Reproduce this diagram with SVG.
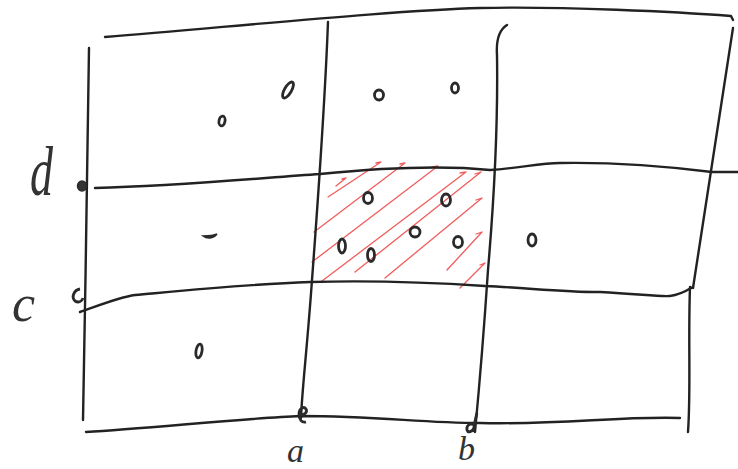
<svg xmlns="http://www.w3.org/2000/svg" width="738" height="469" viewBox="0 0 738 469">
<style>
.ln{fill:none;stroke:#222;stroke-width:2.4;stroke-linecap:round;stroke-linejoin:round}
.pt{fill:none;stroke:#2a2a2a;stroke-width:2.8}
.pf{fill:#333;stroke:#2a2a2a;stroke-width:1.5}
.h{fill:none;stroke:#ef4a4a;stroke-width:1.3;stroke-linecap:round;stroke-linejoin:round;opacity:0.9}
.lb{font-family:"Liberation Serif","DejaVu Serif",serif;font-style:italic;fill:#333}
</style>
<rect width="738" height="469" fill="#fff"/>
<g id="hatch">
<path class="h" d="M336,186 L346,178 l-4,1"/>
<path class="h" d="M328,197 L381,162 l-5,1"/>
<path class="h" d="M314,232 L405,163 l-5,1"/>
<path class="h" d="M312,262 L438,166 l-6,1"/>
<path class="h" d="M322,281 L466,172 l-6,1"/>
<path class="h" d="M355,272 L481,172 l-6,2"/>
<path class="h" d="M385,278 L482,198 l-6,2"/>
<path class="h" d="M447,270 L482,232 l-6,2"/>
<path class="h" d="M460,288 L485,263 l-5,2"/>
</g>
<g id="grid">
<path class="ln" d="M105,37 C250,25 400,10 480,8 S680,12 731,16 l2,4"/>
<path class="ln" d="M89,48 C88,150 85,300 83,420"/>
<path class="ln" d="M86,432 C150,428 250,418 300,416 C380,416 420,423 480,423 C560,425 620,416 680,418"/>
<path class="ln" d="M328,22 C325,100 318,200 312,280 C307,350 302,390 301,418"/>
<path class="ln" d="M507,25 C499,30 496,40 497,55 C498,120 494,200 488,270 C484,330 479,390 475,432"/>
<path class="ln" d="M733,28 C725,80 710,180 693,288"/>
<path class="ln" d="M690,287 C688,340 691,390 688,432"/>
<path class="ln" d="M95,188 C180,186 260,178 320,174 C380,168 440,165 490,170 C520,168 540,163 560,163 C620,162 680,168 712,172 L738,172"/>
<path class="ln" d="M80,312 C100,305 120,297 135,295 C190,290 250,284 310,282 C380,280 440,283 485,286 C530,288 560,292 600,292 C640,294 660,297 670,296 C680,295 688,290 693,287"/>
</g>
<g id="points">
<ellipse class="pf" cx="82" cy="186" rx="4.5" ry="5"/>
<path class="pt" d="M80,289 C74,290 71,297 75,301 C78,303 82,302 83,298" stroke-width="3.2"/>
<ellipse class="pt" cx="222" cy="121" rx="3" ry="5" transform="rotate(10 222 121)"/>
<ellipse class="pt" cx="288" cy="90" rx="3.5" ry="9" transform="rotate(30 288 90)"/>
<ellipse class="pt" cx="379" cy="95" rx="4.5" ry="5"/>
<ellipse class="pt" cx="455" cy="88" rx="3.5" ry="5"/>
<path class="pf" d="M203,236 C207,239 213,239 217,234 C213,236 208,236 203,236 Z" stroke-width="2"/>
<ellipse class="pt" cx="199" cy="351" rx="3" ry="7" transform="rotate(10 199 351)"/>
<ellipse class="pt" cx="368" cy="198" rx="4.5" ry="5.5"/>
<ellipse class="pt" cx="342" cy="246" rx="3.5" ry="7"/>
<ellipse class="pt" cx="371" cy="255" rx="3.5" ry="6.5"/>
<ellipse class="pt" cx="446" cy="200" rx="4.5" ry="6"/>
<ellipse class="pt" cx="415" cy="232" rx="5" ry="5"/>
<ellipse class="pt" cx="458" cy="242" rx="4.5" ry="5.5"/>
<ellipse class="pt" cx="532" cy="240" rx="4" ry="6"/>
<path class="pt" d="M299,414 C303,416 308,413 306,409 C304,406 299,408 299,414 C299,420 302,423 306,422"/>
<path class="pt" d="M477,413 C475,420 474,428 473,432 M475,426 C471,422 466,425 467,430 C468,433 472,432 474,428"/>
</g>
<g id="labels">
<text class="lb" x="30" y="130" font-size="46" transform="scale(1,1.5)">d</text>
<text class="lb" x="12" y="321" font-size="52">c</text>
<text class="lb" x="287" y="462" font-size="34">a</text>
<text class="lb" x="458" y="460" font-size="34">b</text>
</g>
</svg>
